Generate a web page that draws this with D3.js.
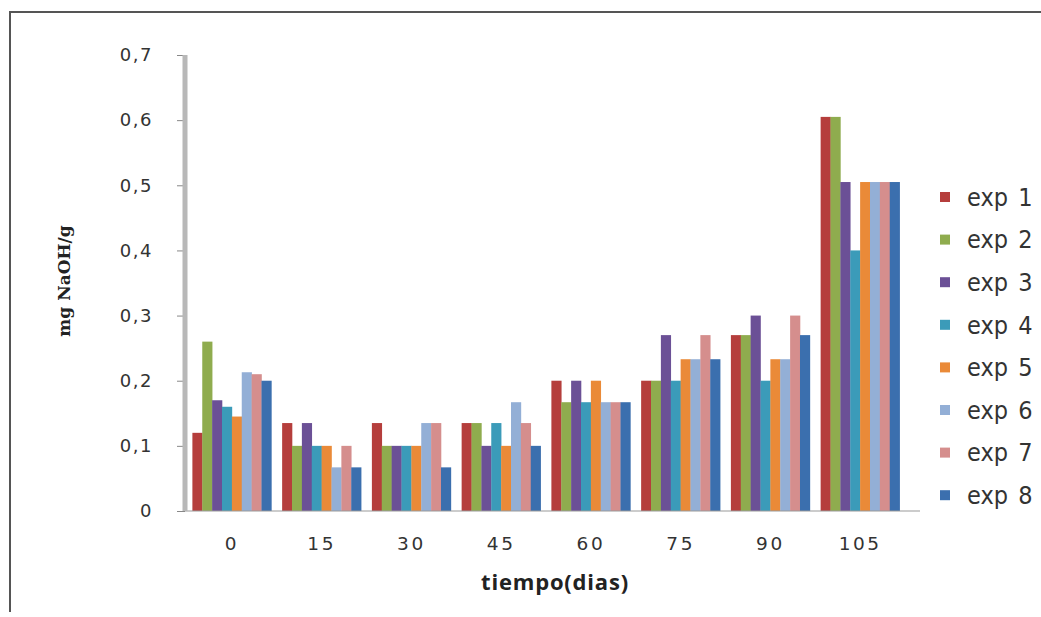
<!DOCTYPE html>
<html>
<head>
<meta charset="utf-8">
<script src="https://cdn.jsdelivr.net/npm/d3@7"></script>
<style>
  body { margin: 0; background: #fff; }
  svg { display: block; }
</style>
</head>
<body>
<div class="chart"></div>
<script>
// Configuration
var width = 1041;
var height = 617;

// data
var dias = ["0", "15", "30", "45", "60", "75", "90", "105"];
var series = ["exp 1", "exp 2", "exp 3", "exp 4", "exp 5", "exp 6", "exp 7", "exp 8"];
var exp1 = [0.12, 0.135, 0.135, 0.135, 0.2, 0.2, 0.27, 0.605];
var exp2 = [0.26, 0.1, 0.1, 0.135, 0.167, 0.2, 0.27, 0.605];
var exp3 = [0.17, 0.135, 0.1, 0.1, 0.2, 0.27, 0.3, 0.505];
var exp4 = [0.16, 0.1, 0.1, 0.135, 0.167, 0.2, 0.2, 0.4];
var exp5 = [0.145, 0.1, 0.1, 0.1, 0.2, 0.233, 0.233, 0.505];
var exp6 = [0.213, 0.067, 0.135, 0.167, 0.167, 0.233, 0.233, 0.505];
var exp7 = [0.21, 0.1, 0.135, 0.135, 0.167, 0.27, 0.3, 0.505];
var exp8 = [0.2, 0.067, 0.067, 0.1, 0.167, 0.233, 0.27, 0.505];
var yTicks = [0, 0.1, 0.2, 0.3, 0.4, 0.5, 0.6, 0.7];

var values = [exp1, exp2, exp3, exp4, exp5, exp6, exp7, exp8];
var colors = ["#b53e3c", "#8fac4e", "#6b5096", "#3b9bb9", "#ea8a38", "#93afd6", "#d58e8d", "#3b6fae"];

// comma as decimal mark
var locale = d3.formatLocale({decimal: ",", thousands: ".", grouping: [3], currency: ["", ""]});
var fmt = locale.format(".1f");

var svg = d3.select(".chart").append("svg")
    .attr("width", width)
    .attr("height", height);

// frame
svg.append("path")
    .attr("d", "M10,612 L10,12 L1041,12")
    .attr("fill", "none")
    .attr("stroke", "#555")
    .attr("stroke-width", 2);

// scales
var x = d3.scaleBand()
    .domain(dias)
    .range([187, 905])
    .paddingInner(0.12)
    .paddingOuter(0.06);

var xs = d3.scaleBand()
    .domain(series)
    .range([0, x.bandwidth()]);

var y = d3.scaleLinear()
    .domain([0, 0.7])
    .range([511, 55]);

// bars
var groups = svg.selectAll("g.grupo")
    .data(dias)
    .enter().append("g")
    .attr("class", "grupo")
    .attr("transform", function(d) { return "translate(" + x(d) + ",0)"; });

groups.selectAll("rect")
    .data(function(d, i) {
      return series.map(function(s, j) { return {s: s, v: values[j][i], c: colors[j]}; });
    })
    .enter().append("rect")
    .attr("x", function(d) { return xs(d.s); })
    .attr("width", xs.bandwidth() + 0.3)
    .attr("y", function(d) { return y(d.v); })
    .attr("height", function(d) { return y(0) - y(d.v); })
    .style("fill", function(d) { return d.c; });

// x axis
svg.append("line")
    .attr("x1", 183).attr("x2", 920)
    .attr("y1", y(0)).attr("y2", y(0))
    .attr("stroke", "#999")
    .attr("stroke-width", 1);

var xAxis = svg.append("g")
    .attr("transform", "translate(0," + y(0) + ")")
    .call(d3.axisBottom(x).tickSize(0).tickPadding(26));
xAxis.select(".domain").remove();
xAxis.selectAll("text")
    .style("font-family", "'DejaVu Sans', sans-serif")
    .style("font-size", "18.5px")
    .style("letter-spacing", "2.5px")
    .style("fill", "#333");

// y axis
var yAxis = svg.append("g")
    .attr("transform", "translate(185,0)")
    .call(d3.axisLeft(y).tickValues(yTicks).tickSize(8).tickPadding(24)
      .tickFormat(function(d) { return d === 0 ? "0" : fmt(d); }));
yAxis.select(".domain").remove();
yAxis.selectAll("line").attr("stroke", "#888");
yAxis.selectAll("text")
    .style("font-family", "'DejaVu Sans', sans-serif")
    .style("font-size", "18px")
    .style("letter-spacing", "1.5px")
    .style("fill", "#333");

svg.append("line")
    .attr("x1", 185).attr("x2", 185)
    .attr("y1", y(0.7)).attr("y2", y(0))
    .attr("stroke", "#b8b8b8")
    .attr("stroke-width", 5);

// axis titles
svg.append("text")
    .attr("x", 555).attr("y", 590)
    .attr("text-anchor", "middle")
    .style("font-family", "'Open Sans', sans-serif")
    .style("font-weight", "bold")
    .style("font-size", "22px")
    .style("letter-spacing", "0.8px")
    .style("fill", "#222")
    .text("tiempo(dias)");

svg.append("text")
    .attr("transform", "translate(70,281) rotate(-90)")
    .attr("text-anchor", "middle")
    .style("font-family", "'DejaVu Serif', serif")
    .style("font-weight", "bold")
    .style("font-size", "17px")
    .style("fill", "#222")
    .text("mg NaOH/g");

// legend
var legend = svg.selectAll("g.leyenda")
    .data(series)
    .enter().append("g")
    .attr("class", "leyenda")
    .attr("transform", function(d, i) { return "translate(940," + (197 + i * 42.6) + ")"; });

legend.append("rect")
    .attr("x", 0).attr("y", -5)
    .attr("width", 10).attr("height", 10)
    .style("fill", function(d, i) { return colors[i]; });

legend.append("text")
    .attr("x", 27).attr("y", 0)
    .attr("dy", "0.35em")
    .style("font-family", "'Liberation Sans Narrow', 'DejaVu Sans Condensed', sans-serif")
    .style("font-size", "25px")
    .style("word-spacing", "3px")
    .style("fill", "#333")
    .text(function(d) { return d; });
</script>
</body>
</html>
